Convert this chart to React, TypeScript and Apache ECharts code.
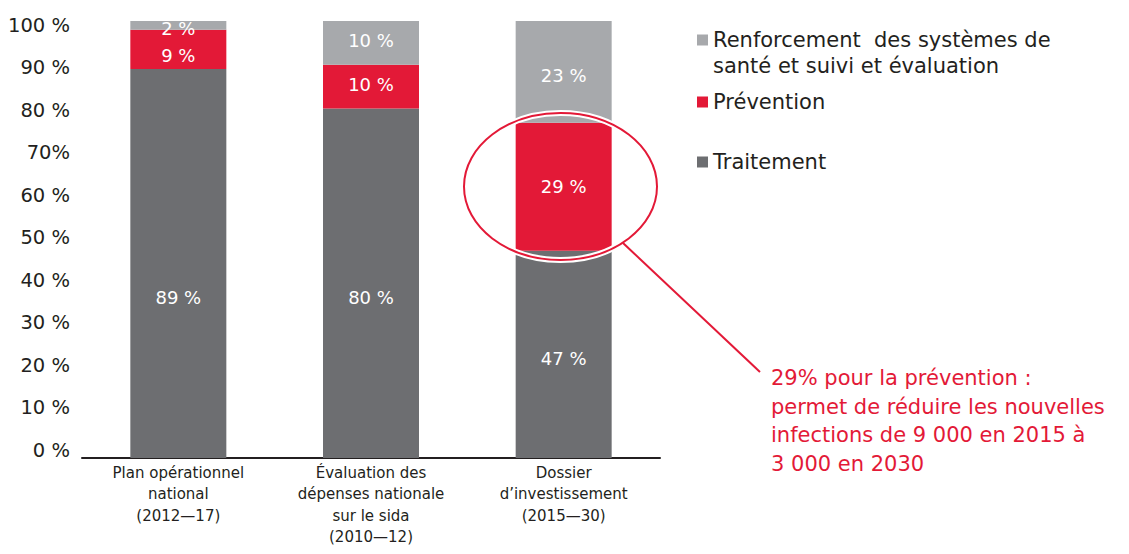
import React, { useEffect, useRef } from "react";
import * as echarts from "echarts";

const categories = [
  "Plan opérationnel\nnational\n(2012—17)",
  "Évaluation des\ndépenses nationale\nsur le sida\n(2010—12)",
  "Dossier\nd’investissement\n(2015—30)",
];
const seriesNames = [
  "Traitement",
  "Prévention",
  "Renforcement  des systèmes de\nsanté et suivi et évaluation",
];
const traitement = [89, 80, 47.4];
const prevention = [9, 10, 29.3];
const renforcement = [2, 10, 23.3];
const yTickLabels = ["0 %", "10 %", "20 %", "30 %", "40 %", "50 %", "60 %", "70%", "80 %", "90 %", "100 %"];
const annotation = "29% pour la prévention :\npermet de réduire les nouvelles\ninfections de 9 000 en 2015 à\n3 000 en 2030";

const FONT = "DejaVu Sans";
const DARK = "#231f20";
const RED = "#e31937";
const GREY = "#6d6e71";
const LIGHT = "#a7a9ac";

// label vertical nudges (styling)
const labelShift = [
  [34, 14, 4],
  [6, -2, 0],
  [3, -2, 4],
];

export default function App() {
  const ref = useRef<HTMLDivElement>(null);
  useEffect(() => {
    document.body.style.margin = "0";
    if (!ref.current) return;
    const chart = echarts.init(ref.current, null, { renderer: "svg" });
    const values = [traitement, prevention, renforcement];
    const colors = [GREY, RED, LIGHT];
    const series = values.map((arr, si) => ({
      name: seriesNames[si],
      type: "bar",
      stack: "total",
      barWidth: 96,
      itemStyle: { color: colors[si] },
      label: {
        show: true,
        position: "inside",
        color: "#ffffff",
        fontFamily: FONT,
        fontSize: 18,
        formatter: (p: any) => Math.round(p.value) + " %",
      },
      data: arr.map((v, i) => ({ value: v, label: { offset: [0, labelShift[si][i]] } })),
    }));
    const legendBase = {
      orient: "vertical",
      left: 697,
      padding: 0,
      icon: "rect",
      itemWidth: 11,
      itemHeight: 11,
      itemGap: 5,
      selectedMode: false,
      textStyle: { fontFamily: FONT, fontSize: 21, color: DARK, lineHeight: 26, rich: { e: { height: 26, fontSize: 20 } } },
    };
    // per-label vertical shift for the y-axis labels (styling)
    const yRich: any = {};
    yTickLabels.forEach((_, i) => {
      const s = -8 + 1.2 * i;
      yRich["t" + i] = {
        fontFamily: FONT,
        fontSize: 19.5,
        color: DARK,
        padding: s > 0 ? [2 * s, 0, 0, 0] : [0, 0, -2 * s, 0],
      };
    });
    chart.setOption({
      animation: false,
      backgroundColor: "#ffffff",
      grid: { left: 82, right: 469, top: 21, bottom: 96 },
      legend: [
        {
          ...legendBase,
          top: 1,
          data: [seriesNames[2]],
          formatter: (n: string) => "{e| }\n" + n,
        },
        { ...legendBase, top: 89, data: [seriesNames[1]] },
        { ...legendBase, top: 149, data: [seriesNames[0]] },
      ],
      xAxis: {
        type: "category",
        data: categories,
        axisLine: { lineStyle: { color: DARK, width: 2 } },
        axisTick: { show: false },
        axisLabel: { fontFamily: FONT, fontSize: 15, lineHeight: 21.5, color: DARK, margin: 4, interval: 0 },
      },
      yAxis: {
        type: "value",
        min: 0,
        max: 100,
        interval: 10,
        splitLine: { show: false },
        axisLine: { show: false },
        axisTick: { show: false },
        axisLabel: {
          margin: 12,
          formatter: (v: number) => {
            const i = Math.round(v / 10);
            return "{t" + i + "|" + yTickLabels[i] + "}";
          },
          rich: yRich,
        },
      },
      series,
      graphic: [
        {
          type: "ellipse",
          z: 100,
          shape: { cx: 560.5, cy: 186.5, rx: 96.5, ry: 73.5 },
          style: { fill: "none", stroke: "#ffffff", lineWidth: 6 },
        },
        {
          type: "ellipse",
          z: 101,
          shape: { cx: 560.5, cy: 186.5, rx: 96.5, ry: 73.5 },
          style: { fill: "none", stroke: RED, lineWidth: 2 },
        },
        {
          type: "line",
          z: 101,
          shape: { x1: 623, y1: 243, x2: 760, y2: 372 },
          style: { stroke: RED, lineWidth: 2 },
        },
        {
          type: "text",
          z: 101,
          x: 771,
          y: 364,
          style: {
            text: annotation,
            fill: RED,
            fontFamily: FONT,
            fontSize: 21,
            lineHeight: 28.5,
            verticalAlign: "top",
            align: "left",
          },
        },
      ],
    });
    return () => chart.dispose();
  }, []);
  return <div ref={ref} style={{ width: 1129, height: 554 }} />;
}
